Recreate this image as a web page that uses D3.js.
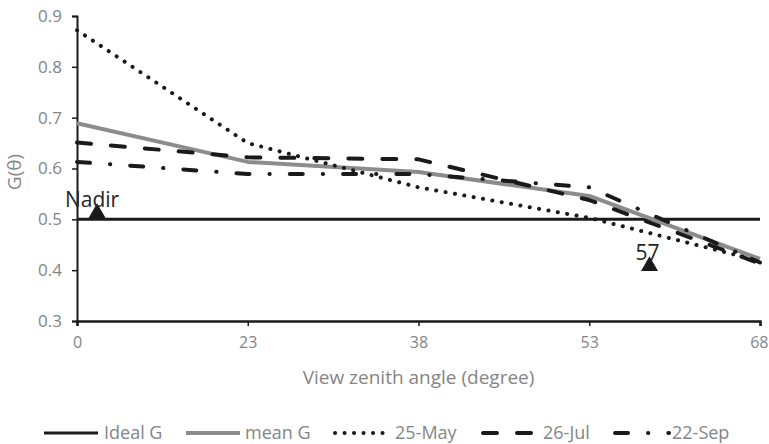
<!DOCTYPE html>
<html>
<head>
<meta charset="utf-8">
<script src="https://cdn.jsdelivr.net/npm/d3@7/dist/d3.min.js"></script>
<style>
  html, body { margin: 0; padding: 0; background: #fff; }
  svg { display: block; font-family: "Open Sans", sans-serif; }
</style>
</head>
<body>
<div id="chart"></div>
<script>
// View zenith angles (categories) and G-function values per series
const angles = [0, 23, 38, 53, 68];
const idealG = [0.5, 0.5, 0.5, 0.5, 0.5];
const meanG  = [0.689, 0.613, 0.593, 0.546, 0.422];
const may25  = [0.872, 0.650, 0.563, 0.503, 0.418];
const jul26  = [0.651, 0.622, 0.618, 0.538, 0.413];
const sep22  = [0.613, 0.589, 0.589, 0.563, 0.415];
const yTicks = [0.3, 0.4, 0.5, 0.6, 0.7, 0.8, 0.9];

// Annotated reference angles
const markerLabels = ["Nadir", "57"];
const markerAngles = [2, 57];
const markerG      = [0.5125, 0.408];

const seriesNames = ["Ideal G", "mean G", "25-May", "26-Jul", "22-Sep"];
const seriesValues = [idealG, meanG, may25, jul26, sep22];

const styles = {
  "Ideal G": { stroke: "#1a1a1a", width: 3,   dash: null,            cap: "butt"  },
  "mean G":  { stroke: "#8c8c8c", width: 4,   dash: null,            cap: "butt"  },
  "25-May":  { stroke: "#1a1a1a", width: 4,   dash: "0.1,9.4",       cap: "round" },
  "26-Jul":  { stroke: "#1a1a1a", width: 4,   dash: "14,20",         cap: "round" },
  "22-Sep":  { stroke: "#1a1a1a", width: 4,   dash: "13,20,0.3,20",  cap: "round" }
};

const W = 769, H = 444;
const plot = { left: 77, right: 760, top: 16, bottom: 321 };

const svg = d3.select("#chart").append("svg")
  .attr("width", W).attr("height", H);

const x = d3.scalePoint().domain(angles).range([plot.left, plot.right]);
const xLin = d3.scaleLinear().domain([0, 68]).range([plot.left, plot.right]);
const y = d3.scaleLinear().domain([0.3, 0.9]).range([plot.bottom, plot.top]);

const tickColor = "#858585";

// Y axis
const yAxis = svg.append("g")
  .attr("transform", `translate(${plot.left},0)`)
  .call(d3.axisLeft(y).tickValues(yTicks).tickFormat(d3.format(".1f")).tickSize(5).tickPadding(10));
yAxis.select(".domain").attr("stroke", "#1a1a1a").attr("stroke-width", 2);
yAxis.selectAll(".tick line").attr("stroke", "#1a1a1a").attr("stroke-width", 1.5);
yAxis.selectAll(".tick text").attr("fill", tickColor).attr("font-size", 17)
  .attr("font-family", "Open Sans, sans-serif");

// X axis
const xAxis = svg.append("g")
  .attr("transform", `translate(0,${plot.bottom})`)
  .call(d3.axisBottom(x).tickSize(5).tickPadding(11));
xAxis.select(".domain").attr("stroke", "#1a1a1a").attr("stroke-width", 2.5);
xAxis.selectAll(".tick line").attr("stroke", "#1a1a1a").attr("stroke-width", 1.5);
xAxis.selectAll(".tick text").attr("fill", tickColor).attr("font-size", 16)
  .attr("font-family", "Open Sans, sans-serif");
// keep the last tick label inside the frame
xAxis.selectAll(".tick text").filter(d => d === angles[angles.length - 1])
  .attr("text-anchor", "end").attr("dx", 8);

// Axis titles
svg.append("text")
  .attr("x", (plot.left + plot.right) / 2).attr("y", 384)
  .attr("text-anchor", "middle").attr("fill", tickColor).attr("font-size", 19)
  .text("View zenith angle (degree)");

svg.append("text")
  .attr("transform", "translate(21,172) rotate(-90)")
  .attr("text-anchor", "middle").attr("fill", tickColor).attr("font-size", 19)
  .text("G(θ)");

// Series lines
const line = d3.line().x((d, i) => x(angles[i])).y(d => y(d));

seriesNames.forEach((name, k) => {
  const s = styles[name];
  svg.append("path")
    .datum(seriesValues[k])
    .attr("d", line)
    .attr("fill", "none")
    .attr("stroke", s.stroke)
    .attr("stroke-width", s.width)
    .attr("stroke-dasharray", s.dash)
    .attr("stroke-linecap", s.cap)
    .attr("stroke-linejoin", "round");
});

// Triangle markers with labels
const tri = d3.symbol().type(d3.symbolTriangle).size(125);
markerLabels.forEach((lab, i) => {
  const mx = xLin(markerAngles[i]), my = y(markerG[i]);
  svg.append("path")
    .attr("d", tri())
    .attr("transform", `translate(${mx},${my})`)
    .attr("fill", "#1a1a1a");
  svg.append("text")
    .attr("x", mx - (i === 0 ? 5 : 2)).attr("y", my - 6)
    .attr("text-anchor", "middle").attr("fill", "#262626").attr("font-size", 21)
    .text(lab);
});

// Legend
const legendY = 433;
const legendX = [44, 186, 335, 483, 615];
const legendTextGap = [6, 5, 6, 6, 3];
seriesNames.forEach((name, k) => {
  const s = styles[name];
  const lx = legendX[k];
  svg.append("line")
    .attr("x1", lx).attr("x2", lx + 54)
    .attr("y1", legendY).attr("y2", legendY)
    .attr("stroke", s.stroke)
    .attr("stroke-width", s.width)
    .attr("stroke-dasharray", s.dash)
    .attr("stroke-linecap", s.cap);
  svg.append("text")
    .attr("x", lx + 54 + legendTextGap[k]).attr("y", legendY + 6)
    .attr("fill", tickColor).attr("font-size", 18)
    .text(name);
});
</script>
</body>
</html>
